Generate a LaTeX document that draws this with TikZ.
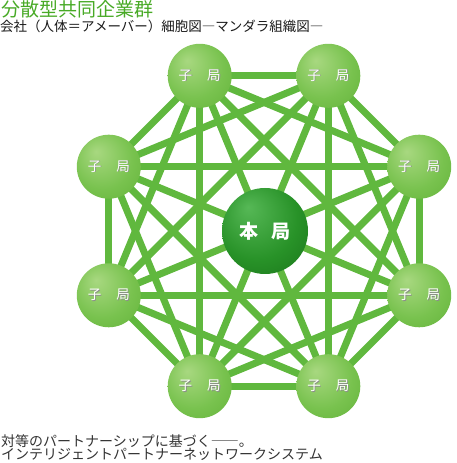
\documentclass[tikz,border=0pt]{standalone}
\usepackage{fontspec}
\usepackage{xcolor}
\usetikzlibrary{backgrounds}
\newfontfamily\jp{Noto Sans CJK JP}

\definecolor{linegreen}{RGB}{96,184,62}
\definecolor{titlegreen}{RGB}{72,170,38}
\definecolor{kolight}{RGB}{168,216,128}
\definecolor{komid}{RGB}{120,194,78}
\definecolor{kodark}{RGB}{88,170,48}
\definecolor{honlight}{RGB}{86,184,86}
\definecolor{honmid}{RGB}{40,146,40}
\definecolor{hondark}{RGB}{18,100,18}

\pgfdeclareradialshading{kogreen}{\pgfpoint{-10bp}{12bp}}{color(0bp)=(kolight); color(24bp)=(komid); color(50bp)=(kodark)}
\pgfdeclareradialshading{hongreen}{\pgfpoint{-10bp}{14bp}}{color(0bp)=(honlight); color(24bp)=(honmid); color(50bp)=(hondark)}

% white label with a small grey shadow
\newcommand{\shadowlabel}[1]{\makebox[0pt][l]{\kern0.8pt\raisebox{-0.8pt}{\textcolor{black!45}{#1}}}#1}

\tikzset{
  kokyoku/.style={circle, minimum size=64pt, inner sep=0pt, shading=kogreen,
    text=white, font=\jp\fontsize{13.5}{14}\selectfont},
  honkyoku/.style={circle, minimum size=86pt, inner sep=0pt, shading=hongreen,
    text=white, font=\jp\bfseries\fontsize{19}{20}\selectfont},
  kline/.style={linegreen, line width=7pt},
  caption/.style={anchor=base west, inner sep=0pt, font=\jp\fontsize{14}{15}\selectfont},
}

\begin{document}
\begin{tikzpicture}[x=1pt, y=1pt]
\useasboundingbox (0,0) rectangle (457,463);
\def \radius {168pt}

\node[anchor=base west, inner sep=0pt, text=titlegreen, font=\jp\fontsize{19}{20}\selectfont] (title) at (1,446) {分散型共同企業群};
\node[anchor=base west, inner sep=0pt, text=black!90, font=\jp\fontsize{13.5}{14}\selectfont] (subtitle) at (0,431) {会社（人体＝アメーバー）細胞図―マンダラ組織図―};

\begin{scope}[shift={(264,232)}]
\node[kokyoku] at ({22.5}:\radius) (k1) {\shadowlabel{子}\hspace{15pt}\shadowlabel{局}};
\node[kokyoku] at ({67.5}:\radius) (k2) {\shadowlabel{子}\hspace{15pt}\shadowlabel{局}};
\node[kokyoku] at ({112.5}:\radius) (k3) {\shadowlabel{子}\hspace{15pt}\shadowlabel{局}};
\node[kokyoku] at ({157.5}:\radius) (k4) {\shadowlabel{子}\hspace{15pt}\shadowlabel{局}};
\node[kokyoku] at ({202.5}:\radius) (k5) {\shadowlabel{子}\hspace{15pt}\shadowlabel{局}};
\node[kokyoku] at ({247.5}:\radius) (k6) {\shadowlabel{子}\hspace{15pt}\shadowlabel{局}};
\node[kokyoku] at ({292.5}:\radius) (k7) {\shadowlabel{子}\hspace{15pt}\shadowlabel{局}};
\node[kokyoku] at ({337.5}:\radius) (k8) {\shadowlabel{子}\hspace{15pt}\shadowlabel{局}};

\node[honkyoku] at (1,0) (hon) {本\hspace{14pt}局};
\end{scope}

\begin{pgfonlayer}{background}
\foreach \i [evaluate=\i as \k using int(\i+1)] in {1,...,7}
  \foreach \j in {\k,...,8}
    \draw[kline] (k\i.center) -- (k\j.center);
\end{pgfonlayer}

\node[caption, text=black!80] (note1) at (1,16.5) {対等のパートナーシップに基づく――。};
\node[caption, text=black!80] (note2) at (1,3.5) {インテリジェントパートナーネットワークシステム};

\end{tikzpicture}
\end{document}
